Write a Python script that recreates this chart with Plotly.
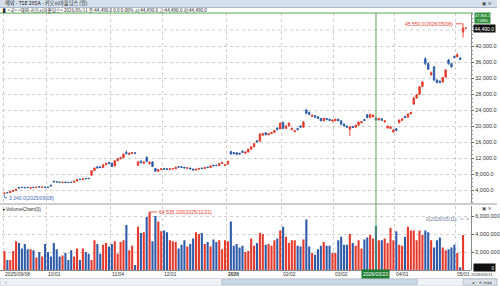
import pandas as pd
import plotly.graph_objects as go

# ---------------- data ----------------
holidays = ["2025-09-15", "2025-09-23", "2025-10-13", "2025-11-03", "2025-11-24",
            "2025-12-31", "2026-01-01", "2026-01-02", "2026-01-12", "2026-02-11",
            "2026-02-23", "2026-03-20", "2026-04-29", "2026-05-04", "2026-05-05", "2026-05-06"]
dates = [d.strftime("%Y/%m/%d") for d in pd.bdate_range("2025-09-08", "2026-05-11")
         if d.strftime("%Y-%m-%d") not in holidays]

open_ = [3150, 3400, 3350, 3650, 3950, 4650, 4700, 4650, 4700, 4450,
         4700, 4600, 4850, 4650, 4750, 4750, 5200, 6200, 6100, 6000,
         5850, 6000, 5950, 5950, 5950, 6250, 6700, 6600, 6900, 6950,
         7700, 8900, 9800, 9800, 9600, 10300, 10900, 10700, 10000, 11300,
         11800, 12100, 13400, 12900, 13100, 13300, 10200, 11200, 10700, 12200,
         10600, 11000, 9400, 8700, 9100, 9400, 9300, 9100, 9250, 9300,
         9850, 9800, 9700, 9400, 9500, 9250, 8950, 9200, 9500, 9350,
         9750, 9600, 10200, 10200, 10100, 10600, 10100, 10500, 13600, 13400,
         13300, 13200, 13700, 13200, 13500, 14200, 14800, 16300, 16200, 17700,
         18300, 17800, 18100, 18400, 19500, 19300, 20900, 19400, 20000, 19100,
         18600, 19400, 20000, 19700, 24000, 23400, 22400, 22600, 22300, 21900,
         21300, 21900, 21700, 21200, 21300, 21700, 21300, 20500, 20000, 19200,
         19900, 19700, 20200, 20800, 21600, 22800, 22100, 22300, 22000, 21500,
         21800, 21000, 19500, 19400, 18500, 19300, 20800, 21400, 22400, 22200,
         23000, 25500, 27000, 27900, 29900, 36800, 35600, 32800, 34800, 31500,
         31200, 31000, 32200, 36500, 35600, 37400, 37300, 37000, 43500, 44490]
high = [3300, 3450, 3650, 3950, 4250, 4700, 4750, 4700, 4750, 4600,
        4750, 4750, 4900, 4800, 4800, 4800, 5300, 6300, 6200, 6050,
        6000, 6050, 6000, 6050, 6250, 6650, 6750, 6850, 6950, 7000,
        8900, 9600, 9900, 9900, 10400, 10800, 11000, 10800, 11400, 11900,
        12200, 13100, 13900, 13300, 13400, 13350, 11300, 11400, 11100, 12400,
        11200, 11200, 9500, 9200, 9400, 9500, 9400, 9350, 9400, 9800,
        9950, 9900, 9750, 9600, 9550, 9300, 9250, 9450, 9600, 9700,
        9800, 10100, 10300, 10300, 10700, 11000, 10400, 11300, 13800, 13500,
        13400, 13300, 13900, 13600, 14300, 14900, 15700, 16500, 18200, 18200,
        18400, 18200, 18500, 19000, 19700, 20900, 21100, 20200, 20900, 19600,
        19000, 19500, 20200, 21200, 24300, 23600, 22900, 22700, 22400, 22000,
        22000, 22000, 21800, 21600, 21800, 21800, 21400, 20600, 20100, 19900,
        20000, 20300, 21100, 21200, 21800, 23000, 23100, 22900, 22200, 22000,
        21900, 21400, 20100, 19900, 19200, 19500, 21600, 21900, 22600, 23100,
        23500, 27300, 28000, 30000, 31200, 37200, 35900, 33600, 35000, 31700,
        31400, 32300, 34200, 36800, 35800, 37600, 38200, 37200, 45550, 44490]
low = [3040, 3250, 3320, 3600, 3900, 4400, 4550, 4500, 4550, 4400,
       4550, 4550, 4700, 4600, 4600, 4600, 4950, 5900, 5950, 5850,
       5800, 5850, 5800, 5850, 5900, 6200, 6550, 6550, 6750, 6800,
       7600, 8800, 9400, 9500, 9550, 10200, 10500, 9800, 9950, 11200,
       11700, 12000, 12900, 12800, 13000, 13100, 10000, 10700, 10500, 11000,
       10300, 9700, 8500, 8600, 9000, 9100, 9000, 9000, 9150, 9250,
       9600, 9600, 9450, 9300, 9200, 8900, 8900, 9150, 9300, 9300,
       9550, 9550, 9950, 10000, 10050, 10500, 10000, 10400, 12800, 12900,
       12800, 12900, 13300, 13100, 13400, 14100, 14700, 15900, 16100, 17600,
       17700, 17700, 18000, 18300, 18900, 19200, 19200, 19300, 19900, 18900,
       18400, 18900, 19600, 19600, 22900, 22700, 22300, 22100, 21800, 21200,
       21200, 21500, 21300, 21100, 21200, 21200, 20100, 19900, 19600, 17500,
       19500, 19600, 20100, 20700, 21200, 21900, 22000, 22200, 21300, 21400,
       21300, 20900, 19400, 19300, 18300, 18700, 20700, 21300, 22000, 22100,
       22900, 25300, 26800, 27800, 29700, 35200, 34000, 32600, 31200, 30600,
       30700, 30900, 32100, 35300, 34600, 36900, 37200, 36500, 42100, 44490]
close = [3250, 3300, 3600, 3900, 4200, 4500, 4600, 4550, 4600, 4550,
         4650, 4700, 4750, 4750, 4650, 4650, 5000, 6000, 6000, 5900,
         5950, 5900, 5850, 5900, 6200, 6600, 6600, 6800, 6800, 6850,
         8800, 9500, 9500, 9600, 10300, 10700, 10600, 9900, 11300, 11800,
         12100, 13000, 13100, 13200, 13300, 13200, 11000, 10800, 11000, 11100,
         10900, 9900, 8700, 9100, 9300, 9200, 9150, 9300, 9350, 9700,
         9700, 9650, 9500, 9550, 9250, 9000, 9200, 9400, 9350, 9650,
         9600, 10000, 10050, 10100, 10600, 10900, 10300, 11200, 13000, 13100,
         12900, 13000, 13400, 13500, 14200, 14800, 15600, 16000, 18000, 18100,
         17800, 18100, 18400, 18900, 19100, 20700, 19400, 20000, 20700, 19400,
         18800, 19100, 19700, 21000, 23200, 22900, 22700, 22200, 21900, 21300,
         21900, 21600, 21400, 21500, 21700, 21300, 20500, 20000, 19700, 19800,
         19600, 20200, 21000, 21100, 21400, 22100, 22900, 22700, 21500, 21900,
         21400, 21300, 20000, 19800, 19000, 18900, 21500, 21800, 22100, 23000,
         23400, 27000, 27800, 29800, 31000, 35600, 34200, 33300, 31500, 30900,
         30900, 32100, 34000, 35600, 34800, 37100, 37800, 36700, 44490, 44490]
volume = [2.1, 1.1, 1.1, 2.1, 3.2, 3.0, 2.4, 2.9, 2.3, 2.3,
          2.2, 1.4, 2.0, 1.5, 2.9, 2.0, 1.5, 3.0, 2.3, 1.5,
          1.6, 1.9, 1.1, 2.2, 1.5, 2.4, 1.1, 2.4, 2.0, 1.8,
          1.1, 3.3, 2.9, 1.8, 2.8, 3.0, 2.6, 2.9, 3.2, 1.8,
          3.1, 3.3, 5.0, 2.2, 2.7, 0.55, 4.8, 4.1, 4.2, 5.9,
          6.4535, 3.2, 6.0, 5.4, 4.3, 4.4, 4.2, 3.3, 3.2, 3.1,
          2.4, 2.8, 3.3, 2.6, 2.9, 3.5, 4.2, 4.0, 4.1, 2.9,
          3.1, 2.6, 3.4, 3.1, 3.3, 2.3, 3.3, 3.2, 5.4, 2.7,
          2.9, 2.5, 2.7, 2.0, 2.1, 3.5, 2.7, 3.0, 4.1, 4.0,
          2.8, 2.9, 2.7, 3.3, 3.5, 4.4, 4.8, 3.7, 3.0, 3.3,
          3.3, 2.7, 2.6, 3.4, 5.6, 2.6, 1.9, 1.7, 2.3, 2.7,
          3.1, 2.7, 2.7, 1.9, 1.9, 3.3, 3.7, 2.8, 2.8, 4.0,
          3.0, 2.7, 3.3, 2.4, 3.4, 3.6, 3.9, 3.5, 4.9, 3.3,
          3.3, 3.5, 3.0, 4.7, 3.3, 4.3, 2.8, 2.7, 3.7, 4.8,
          4.4, 4.4, 3.3, 4.4, 3.9, 4.4, 4.2, 3.3, 2.5, 3.3,
          3.6, 2.5, 2.2, 2.3, 2.5, 2.8, 1.9, 0.3, 3.9, 0.0]
volume = [v * 1_000_000 for v in volume]

x_labels = ["2025/09/08", "10/01", "11/04", "12/01", "2026", "02/02", "03/02", "04/01", "05/01"]
x_label_dates = ["2025/09/08", "2025/10/01", "2025/11/04", "2025/12/01", "2026/01/05",
                 "2026/02/02", "2026/03/02", "2026/04/01", "2026/05/01"]
price_ticks = [4000, 8000, 12000, 16000, 20000, 24000, 28000, 32000, 36000, 40000]
price_grid = [4000, 8000, 12000, 16000, 20000, 24000, 28000, 32000, 36000, 40000, 44000]
volume_ticks = [2000000, 4000000, 6000000]

title_text = "해외 - TSE 285A - 키오시아홀딩스 (일)"
info_text = "▌<국> <해외-키오시아홀딩스> 2026/05/11 종:44,490.0 0.0 0.00% 시:44,490.0 고:44,490.0 저:44,490.0"
cross_date = "2026/03/23"
last_date = "2026/05/11"

# ---------------- styling ----------------
W, H = 500, 286
UP, DOWN = "#e63a2c", "#2f5ca9"
GRID = "#cfcfcf"
GREEN = "#55a855"
FONT_NUM = "Liberation Sans"
FONT_KR = "Noto Sans CJK KR"

def py(p):
    return 1 - p / H

def px(p):
    return p / W

X0, X1 = 2, 474
P_TOP, P_BOT = 13, 203
V_TOP, V_BOT = 206, 270
n = len(dates)
xi = list(range(n))
step = 2.92
xr = [-2.5 / step, -2.5 / step + (X1 - X0) / step]

vol_colors = [UP if c >= o else DOWN for o, c in zip(open_, close)]
grid_x = [dates.index(d) - 0.5 for d in x_label_dates]

fig = go.Figure()
fig.add_trace(go.Candlestick(
    x=xi, open=open_, high=high, low=low, close=close,
    increasing=dict(line=dict(color=UP, width=0.9), fillcolor=UP),
    decreasing=dict(line=dict(color=DOWN, width=0.9), fillcolor=DOWN),
    whiskerwidth=0, xaxis="x", yaxis="y", showlegend=False, hoverinfo="skip"))
fig.add_trace(go.Bar(
    x=xi, y=volume, marker=dict(color=vol_colors, line=dict(width=0)), width=0.72,
    xaxis="x2", yaxis="y2", showlegend=False, hoverinfo="skip"))

axis_common = dict(range=xr, domain=[px(X0), px(X1)], showticklabels=False,
                   tickvals=grid_x, showgrid=True, gridcolor=GRID, griddash="dot",
                   gridwidth=1, zeroline=False, ticks="", showline=False,
                   rangeslider=dict(visible=False))

fig.update_layout(
    width=W, height=H, autosize=False,
    margin=dict(l=0, r=0, t=0, b=0),
    paper_bgcolor="white", plot_bgcolor="white",
    xaxis=dict(**axis_common, anchor="y"),
    xaxis2=dict(**axis_common, anchor="y2", matches="x"),
    yaxis=dict(domain=[py(P_BOT), py(P_TOP)], range=[750, 48250], side="right",
               anchor="x", tickvals=price_ticks, tickformat=",.1f",
               tickfont=dict(family=FONT_NUM, size=5.5, color="#333"),
               ticks="outside", ticklen=2, tickcolor="#666",
               minor=dict(dtick=1000, ticks="outside", ticklen=1, tickcolor="#888"),
               showgrid=True, gridcolor=GRID, griddash="dot", zeroline=False,
               showline=True, linecolor="#8a8a8a", linewidth=1),
    yaxis2=dict(domain=[py(V_BOT), py(V_TOP)], range=[0, 7.111e6], side="right",
                anchor="x2", tickvals=volume_ticks, tickformat=",d",
                tickfont=dict(family=FONT_NUM, size=5.5, color="#333"),
                ticks="outside", ticklen=2, tickcolor="#666",
                showgrid=True, gridcolor=GRID, griddash="dot", zeroline=False,
                showline=True, linecolor="#8a8a8a", linewidth=1),
)

shapes = []
ann = []
# extra grid line for the price level hidden behind the last-price box
for g in price_grid:
    if g not in price_ticks:
        shapes.append(dict(type="line", xref="paper", yref="y", x0=px(X0), x1=px(X1), y0=g, y1=g,
                           line=dict(color=GRID, width=1, dash="dot"), layer="below"))
# window title bar
shapes.append(dict(type="rect", xref="paper", yref="paper", x0=0, x1=1, y0=py(7.5), y1=1,
                   fillcolor="#d5dfeb", line=dict(width=0), layer="below"))
shapes.append(dict(type="line", xref="paper", yref="paper", x0=0, x1=1, y0=py(7.5), y1=py(7.5),
                   line=dict(color="#a9b8cc", width=1)))
ann.append(dict(text=title_text, x=px(3), y=py(3.5), xref="paper", yref="paper",
                xanchor="left", yanchor="middle", showarrow=False,
                font=dict(family=FONT_KR, size=5.2, color="#222")))
ann.append(dict(text="▣ ✕", x=px(497), y=py(3.8), xref="paper", yref="paper",
                xanchor="right", yanchor="middle", showarrow=False,
                font=dict(family="DejaVu Sans", size=4.5, color="#444")))
ann.append(dict(text=info_text, x=px(1), y=py(10.6), xref="paper", yref="paper",
                xanchor="left", yanchor="middle", showarrow=False,
                font=dict(family=FONT_KR, size=4.6, color="#222")))
# crosshair
shapes.append(dict(type="line", xref="paper", yref="paper", x0=0, x1=px(476),
                   y0=py(P_TOP), y1=py(P_TOP), line=dict(color=GREEN, width=1)))
ci = dates.index(cross_date)
shapes.append(dict(type="line", xref="x", yref="paper", x0=ci, x1=ci,
                   y0=py(V_BOT), y1=py(P_TOP), line=dict(color=GREEN, width=1)))
# panel separator
shapes.append(dict(type="line", xref="paper", yref="paper", x0=0, x1=1,
                   y0=py(204), y1=py(204), line=dict(color="#9a9a9a", width=1)))
# bottom axis line
shapes.append(dict(type="line", xref="paper", yref="paper", x0=0, x1=px(X1),
                   y0=py(V_BOT + 0.5), y1=py(V_BOT + 0.5), line=dict(color="#8a8a8a", width=1)))

# x labels
for lab, d in zip(x_labels, x_label_dates):
    i = dates.index(d)
    ann.append(dict(text=("<b>%s</b>" % lab) if lab == "2026" else lab,
                    x=i - 0.8 if i > 0 else xr[0] + 0.2, y=py(274), xref="x2", yref="paper",
                    xanchor="left", yanchor="middle", showarrow=False,
                    font=dict(family=FONT_NUM, size=5, color="#333")))
ann.append(dict(text=cross_date, x=ci, y=py(274), xref="x2", yref="paper",
                xanchor="center", yanchor="middle", showarrow=False, bgcolor="#1f7a32",
                borderpad=1, font=dict(family=FONT_NUM, size=5, color="white")))
ann.append(dict(text=last_date, x=px(498), y=py(274), xref="paper", yref="paper",
                xanchor="right", yanchor="middle", showarrow=False,
                font=dict(family=FONT_NUM, size=4.4, color="#333")))

# last price box
ann.append(dict(text="%s" % format(close[-1], ",.1f"), x=px(476), y=close[-1],
                xref="paper", yref="y", xanchor="left", yanchor="middle", showarrow=False,
                bgcolor="#111", borderpad=0.5,
                font=dict(family=FONT_NUM, size=5, color="white")))
# crosshair value box
ann.append(dict(text="47,906.1<br>7.68%", x=px(477), y=py(17.6), xref="paper", yref="paper",
                xanchor="left", yanchor="middle", showarrow=False, bgcolor="#2f8f3c",
                borderpad=0, font=dict(family=FONT_NUM, size=3.9, color="white")))
# last volume box
ann.append(dict(text=format(int(volume[-1]), ","), x=px(476), y=py(267), xref="paper",
                yref="paper", xanchor="left", yanchor="middle", showarrow=False,
                bgcolor="#111", borderpad=0.5, width=20, align="right",
                font=dict(family=FONT_NUM, size=5, color="white")))

# max price marker
imax = high.index(max(high))
shapes.append(dict(type="line", xref="x", yref="y", x0=imax - 2.6, x1=imax, y0=max(high), y1=max(high),
                   line=dict(color=UP, width=0.8)))
ann.append(dict(text="%s(%s)" % (format(max(high), ",.1f"), dates[imax]), x=imax - 2.8, y=max(high),
                xref="x", yref="y", xanchor="right", yanchor="middle", showarrow=False,
                font=dict(family=FONT_NUM, size=5, color=UP)))
# min price marker
imin = low.index(min(low))
shapes.append(dict(type="path", xref="x", yref="y",
                   path="M %f,%f L %f,%f L %f,%f" % (imin, min(low) - 200, imin, 2100, imin + 0.9, 2100),
                   line=dict(color="#3d6db5", width=0.8)))
ann.append(dict(text="%s(%s)" % (format(min(low), ",.1f"), dates[imin]), x=imin + 0.9, y=2100,
                xref="x", yref="y", xanchor="left", yanchor="middle", showarrow=False,
                font=dict(family=FONT_NUM, size=5, color="#3d6db5")))
# max volume marker
vmax_i = volume.index(max(volume))
shapes.append(dict(type="line", xref="x2", yref="y2", x0=vmax_i, x1=vmax_i + 2.6,
                   y0=max(volume), y1=max(volume), line=dict(color=UP, width=0.8)))
ann.append(dict(text="64,535,100(%s)" % dates[vmax_i], x=vmax_i + 2.7, y=max(volume),
                xref="x2", yref="y2", xanchor="left", yanchor="middle", showarrow=False,
                font=dict(family=FONT_NUM, size=5, color=UP)))
# current volume label
shapes.append(dict(type="line", xref="paper", yref="paper", x0=px(463), x1=px(473),
                   y0=py(219), y1=py(219), line=dict(color="#7a8aa8", width=0.8, dash="dot")))
ann.append(dict(text="0(%s)" % last_date, x=px(462), y=py(219), xref="paper", yref="paper",
                xanchor="right", yanchor="middle", showarrow=False,
                font=dict(family=FONT_NUM, size=5, color="#6a7d9c")))
ann.append(dict(text="▸VolumeChart(0)", x=px(1), y=py(208.5), xref="paper", yref="paper",
                xanchor="left", yanchor="middle", showarrow=False,
                font=dict(family=FONT_NUM, size=5, color="#333")))
ann.append(dict(text="▣ ✕", x=px(497), y=py(208), xref="paper", yref="paper",
                xanchor="right", yanchor="middle", showarrow=False,
                font=dict(family="DejaVu Sans", size=4.5, color="#555")))

# bottom scrollbar
shapes.append(dict(type="rect", xref="paper", yref="paper", x0=0, x1=1, y0=0, y1=py(278.5),
                   fillcolor="#eef1f5", line=dict(color="#b8c0cc", width=0.6), layer="below"))
shapes.append(dict(type="rect", xref="paper", yref="paper", x0=px(223), x1=px(420), y0=py(284.5),
                   y1=py(279.5), fillcolor="#c9d6e6", line=dict(color="#a8b6c8", width=0.5)))
shapes.append(dict(type="rect", xref="paper", yref="paper", x0=px(466), x1=px(500), y0=py(285),
                   y1=py(279), fillcolor="#dde3ea", line=dict(color="#9aa5b3", width=0.5)))
ann.append(dict(text="‹", x=px(3), y=py(282), xref="paper", yref="paper", showarrow=False,
                xanchor="left", yanchor="middle", font=dict(family="DejaVu Sans", size=5, color="#555")))
ann.append(dict(text="◂ – + max", x=px(498), y=py(282), xref="paper", yref="paper", showarrow=False,
                xanchor="right", yanchor="middle", font=dict(family="DejaVu Sans", size=4, color="#333")))

fig.update_layout(shapes=shapes, annotations=ann)
fig.write_html("out.html")
